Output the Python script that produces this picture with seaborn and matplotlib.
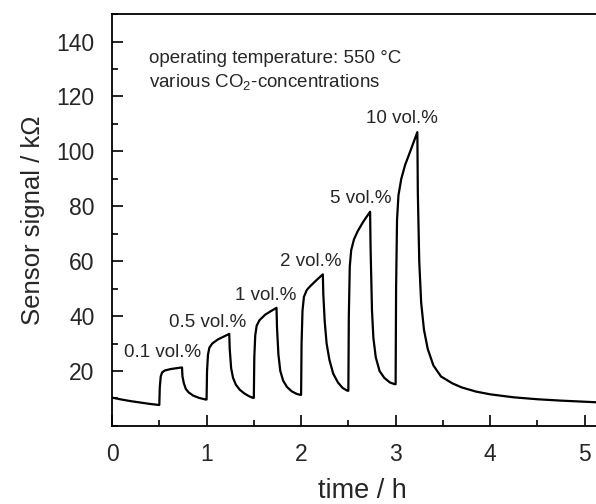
import matplotlib
matplotlib.use("Agg")
import matplotlib.pyplot as plt
import seaborn as sns
from matplotlib.ticker import MultipleLocator

# Sensor response (time in h, signal in kOhm)
time_h = [
    0.00, 0.10, 0.20, 0.30, 0.40, 0.50,
    0.505, 0.515, 0.53, 0.56, 0.62, 0.68, 0.74,
    0.745, 0.76, 0.78, 0.81, 0.86, 0.92, 0.99,
    1.00, 1.005, 1.015, 1.03, 1.06, 1.12, 1.18, 1.24,
    1.245, 1.26, 1.28, 1.31, 1.35, 1.40, 1.45, 1.49,
    1.50, 1.505, 1.515, 1.53, 1.56, 1.62, 1.68, 1.74,
    1.745, 1.76, 1.78, 1.81, 1.85, 1.90, 1.95, 1.99,
    2.00, 2.005, 2.015, 2.03, 2.06, 2.10, 2.16, 2.23,
    2.235, 2.25, 2.27, 2.30, 2.34, 2.39, 2.44, 2.49,
    2.50, 2.505, 2.515, 2.53, 2.56, 2.60, 2.66, 2.73,
    2.735, 2.75, 2.765, 2.79, 2.83, 2.88, 2.94, 2.99,
    3.00, 3.005, 3.015, 3.03, 3.06, 3.10, 3.16, 3.23,
    3.235, 3.25, 3.27, 3.30, 3.34, 3.40, 3.48,
    3.60, 3.70, 3.85, 4.00, 4.25, 4.50, 4.75, 5.00, 5.12,
]
signal_kohm = [
    10.3, 9.6, 9.0, 8.5, 8.0, 7.6,
    14.0, 18.0, 19.5, 20.2, 20.7, 21.0, 21.3,
    18.0, 15.5, 13.5, 12.2, 11.0, 10.2, 9.6,
    9.6, 20.0, 26.0, 28.5, 30.0, 31.5, 32.5, 33.5,
    28.0, 21.0, 17.5, 15.0, 13.2, 11.8, 10.8, 10.2,
    10.2, 25.0, 33.0, 36.5, 38.5, 40.5, 41.8, 43.0,
    36.0, 26.0, 20.0, 16.5, 14.2, 12.6, 11.7, 11.3,
    11.3, 30.0, 42.0, 47.0, 49.5, 51.0, 53.0, 55.2,
    48.0, 38.0, 30.0, 24.0, 19.0, 15.8, 13.8, 12.8,
    12.8, 40.0, 58.0, 64.0, 68.0, 71.0, 74.5, 78.0,
    65.0, 42.0, 32.0, 25.0, 20.0, 17.5, 15.8, 15.2,
    15.2, 50.0, 75.0, 84.0, 90.0, 95.0, 100.5, 107.0,
    85.0, 60.0, 45.0, 35.0, 28.0, 22.0, 18.0,
    15.5, 14.0, 12.5, 11.5, 10.4, 9.7, 9.2, 8.8, 8.6,
]

# concentration labels and where they sit
conc_labels = ["0.1 vol.%", "0.5 vol.%", "1 vol.%", "2 vol.%", "5 vol.%", "10 vol.%"]
label_t = [0.53, 1.01, 1.63, 2.10, 2.63, 3.07]
label_y = [26.8, 37.8, 47.5, 60.0, 83.0, 111.9]

sns.set_style("ticks")
plt.rcParams['font.family'] = ['Liberation Sans', 'DejaVu Sans']
plt.rcParams['mathtext.fontset'] = 'custom'
plt.rcParams['mathtext.rm'] = 'Liberation Sans'

fig = plt.figure(figsize=(5.96, 5.04), dpi=100)
ax = fig.add_axes([0.188, 0.155, 0.812, 0.817])

sns.lineplot(x=time_h, y=signal_kohm, color='black', linewidth=1.6,
             sort=False, estimator=None, ax=ax)

for lab, t, y in zip(conc_labels, label_t, label_y):
    ax.text(t, y, lab, ha='center', va='center', fontsize=13.5)

ax.text(0.39, 134, "operating temperature: 550 °C", ha='left', va='center', fontsize=13.5)
ax.text(0.39, 125, "various CO$_\\mathrm{2}$-concentrations", ha='left', va='center', fontsize=13.5)

ax.set_xlim(0, 5.12)
ax.set_ylim(0, 150)
ax.xaxis.set_major_locator(MultipleLocator(1))
ax.xaxis.set_minor_locator(MultipleLocator(0.5))
ax.set_yticks([20, 40, 60, 80, 100, 120, 140])
ax.yaxis.set_minor_locator(MultipleLocator(10))
ax.tick_params(which='both', direction='in', width=1.2, labelsize=16.5, color='black')
ax.tick_params(which='major', length=8, pad=12.5)
ax.tick_params(which='minor', length=4)

for side in ['left', 'bottom', 'top']:
    ax.spines[side].set_linewidth(1.3)
    ax.spines[side].set_color('black')
ax.spines['right'].set_visible(False)

ax.set_xlabel("time / h", fontsize=19.5)
ax.xaxis.set_label_coords(0.518, -0.158, transform=ax.transAxes)
ax.xaxis.label.set_va('center')
ax.set_ylabel("Sensor signal / kΩ", fontsize=18.5, labelpad=8)

fig.savefig("out.png", dpi=100)
